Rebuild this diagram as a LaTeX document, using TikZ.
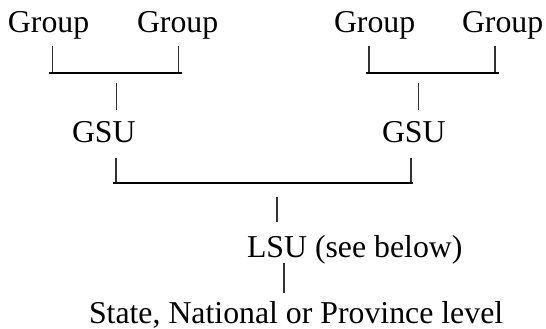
\documentclass[tikz,border=0pt]{standalone}
\usepackage{fontspec}
\setmainfont{Liberation Serif}
\begin{document}
\begin{tikzpicture}[x=1pt,y=-1pt,
  lbl/.style={anchor=base west,inner sep=0pt,outer sep=0pt,font=\fontsize{31.8}{38}\selectfont},
  tick/.style={draw=black!80,line width=1.1pt},
  bar/.style={draw=black,line width=2.2pt}]
\useasboundingbox (0,0) rectangle (546,329);
% texts
\node[lbl] (g1) at (8,33) {Group};
\node[lbl] (g2) at (137,33) {Group};
\node[lbl] (g3) at (334,33) {Group};
\node[lbl] (g4) at (462,33) {Group};
\node[lbl] (gsu1) at (72,142) {GSU};
\node[lbl] (gsu2) at (382,142) {GSU};
\node[lbl] (lsu) at (247,257) {LSU (see below)};
\node[lbl] (st) at (89,323) {State, National or Province level};
% coordinates
\coordinate (t1a) at (52.3,46); \coordinate (t1b) at (52.3,72.7);
\coordinate (t2a) at (178.3,46); \coordinate (t2b) at (178.3,72.7);
\coordinate (b1l) at (49,72.7); \coordinate (b1r) at (181.7,72.7);
\coordinate (m1a) at (116.7,83); \coordinate (m1b) at (116.7,110);
\coordinate (t3a) at (369,46); \coordinate (t3b) at (369,72.7);
\coordinate (t4a) at (495,46); \coordinate (t4b) at (495,72.7);
\coordinate (b2l) at (366,72.7); \coordinate (b2r) at (499,72.7);
\coordinate (m2a) at (418.3,83); \coordinate (m2b) at (418.3,110);
\coordinate (u1a) at (116,157.5); \coordinate (u1b) at (116,182.7);
\coordinate (u2a) at (411,157.5); \coordinate (u2b) at (411,182.7);
\coordinate (b3l) at (113,182.7); \coordinate (b3r) at (412.5,182.7);
\coordinate (l1a) at (277,197); \coordinate (l1b) at (277,222);
\coordinate (l2a) at (284,263); \coordinate (l2b) at (284,293);
% ticks
\draw[tick] (t1a) -- (t1b);
\draw[tick] (t2a) -- (t2b);
\draw[tick] (m1a) -- (m1b);
\draw[tick] (t3a) -- (t3b);
\draw[tick] (t4a) -- (t4b);
\draw[tick] (m2a) -- (m2b);
\draw[tick] (u1a) -- (u1b);
\draw[tick] (u2a) -- (u2b);
\draw[tick] (l1a) -- (l1b);
\draw[tick] (l2a) -- (l2b);
% bars
\draw[bar] (b1l) -- (b1r);
\draw[bar] (b2l) -- (b2r);
\draw[bar] (b3l) -- (b3r);
\end{tikzpicture}
\end{document}
